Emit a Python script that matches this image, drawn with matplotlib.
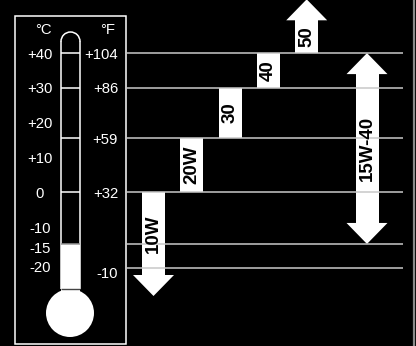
import matplotlib.pyplot as plt
import matplotlib.patches as mpatches

plt.rcParams['font.family'] = ['Liberation Sans', 'DejaVu Sans']

# thermometer scale (deg C positions of the labels)
c_labels = ["+40", "+30", "+20", "+10", "0", "-10", "-15", "-20"]
c_label_pos = [40, 30, 20, 10, -0.3, -10.4, -15.9, -21.6]
f_labels = ["+104", "+86", "+59", "+32", "-10"]
f_label_pos = [40, 30, 15.5, -0.3, -23.1]
# reference lines in deg C
ref_lines = [40, 30, 15.5, 0, -15, -22]
tube_marks = [40, 30, 15.5, 0]
fill_top = -15

# oil grades: range in deg C and which ends get an arrow head
grades = ["10W", "20W", "30", "40", "50", "15W-40"]
grade_lo = [-30, 0, 15.5, 30, 40, -15]
grade_hi = [0, 15.5, 30, 40, 55.5, 40]
grade_heads = ["down", None, None, None, "up", "both"]

# layout
px_per_deg = 3.47
y0_px = 191.9
grade_x = [153.5, 191.8, 230.1, 268.4, 306.7, 367]
shaft_w = 23
head_w = 41
head_len = 21 / px_per_deg

fig = plt.figure(figsize=(4.16, 3.46), dpi=100, facecolor='black')
ax = fig.add_axes([0, 0, 1, 1])
ax.set_facecolor('black')
ax.set_xlim(0, 416)
ax.set_ylim((y0_px - 346) / px_per_deg, y0_px / px_per_deg)
ax.axis('off')

# frame round the thermometer
ax.add_patch(mpatches.Rectangle((15, (y0_px - 344) / px_per_deg), 111,
                                (344 - 16) / px_per_deg, fill=False,
                                edgecolor='white', lw=1.1))

# horizontal lines
ax.hlines(ref_lines, 126, 403, color='#c8c8c8', lw=1.1)
ax.axvline(413.5, color='#8a8a8a', lw=1.6)

# thermometer tube
tx0, tx1 = 61, 80
tcx = (tx0 + tx1) / 2
arc_c = (y0_px - 41.5) / px_per_deg
neck = (y0_px - 289) / px_per_deg
bulb_c = (y0_px - 313) / px_per_deg
ax.bar(tcx, fill_top - neck + 1, bottom=neck - 1, width=tx1 - tx0,
       color='white', edgecolor='none')
ax.add_patch(mpatches.Ellipse((70, bulb_c), 48, 48 / px_per_deg,
                              color='white', lw=0))
ax.vlines([tx0, tx1], neck, arc_c, color='white', lw=1.1)
ax.add_patch(mpatches.Arc((tcx, arc_c), tx1 - tx0, (tx1 - tx0) / px_per_deg,
                          theta1=0, theta2=180, color='white', lw=1.1))
ax.hlines(tube_marks, tx0, tx1, color='white', lw=1.1)
ax.hlines(fill_top, tx0, tx1, color='#999999', lw=1.1)
ax.hlines(neck, tx0, tx1, color='#444444', lw=1.0)

# scale labels
ax.text(43, 47, "°C", color='white', fontsize=10.7, ha='center', va='center_baseline')
ax.text(108, 47, "°F", color='white', fontsize=10.7, ha='center', va='center_baseline')
for lab, t in zip(c_labels, c_label_pos):
    ax.text(40, t, lab, color='white', fontsize=10.7, ha='center', va='center_baseline')
for lab, t in zip(f_labels, f_label_pos):
    ax.text(118, t, lab, color='white', fontsize=10.7, ha='right', va='center_baseline')

# grade bars / arrows
for name, lo, hi, head, xc in zip(grades, grade_lo, grade_hi, grade_heads, grade_x):
    s_lo, s_hi = lo, hi
    if head in ("down", "both"):
        s_lo = lo + head_len
        ax.fill([xc - head_w / 2, xc + head_w / 2, xc], [s_lo, s_lo, lo],
                color='white', lw=0)
    if head in ("up", "both"):
        s_hi = hi - head_len
        ax.fill([xc - head_w / 2, xc + head_w / 2, xc], [s_hi, s_hi, hi],
                color='white', lw=0)
    ax.bar(xc, s_hi - s_lo, bottom=s_lo, width=shaft_w, color='white',
           edgecolor='none')
    ax.text(xc, (s_lo + s_hi) / 2, name, rotation=90, color='black',
            fontsize=13.5, fontweight='bold', ha='center', va='center')

fig.savefig('out.png', dpi=100, facecolor='black')
